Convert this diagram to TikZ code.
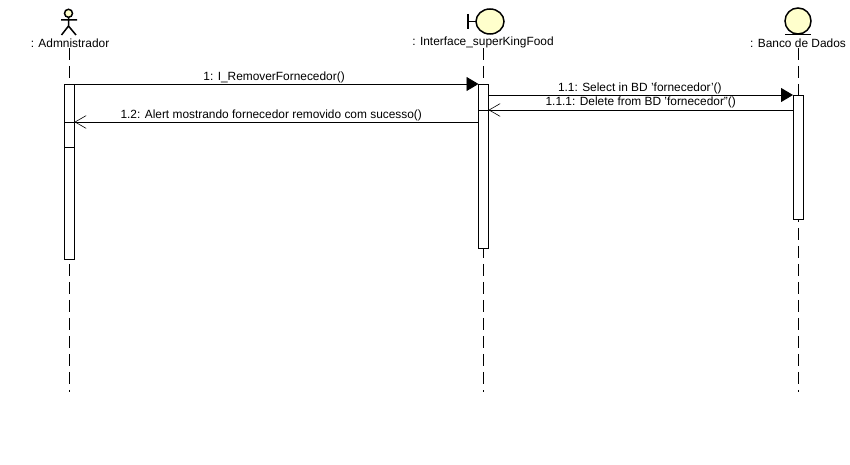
\documentclass[tikz,border=0pt]{standalone}
\usepackage{fontspec}
\setmainfont{Liberation Sans}
\usetikzlibrary{arrows.meta}
\definecolor{headfill}{HTML}{FFFFCC}
\tikzset{
    bar/.style={draw,fill=white,minimum width=10pt,inner sep=0pt,outer sep=0pt},
    role/.style={inner sep=0pt,font=\fontsize{11.9}{14}\selectfont},
    msg/.style={inner sep=0pt,font=\fontsize{11.9}{14}\selectfont},
    lifeline/.style={dash pattern=on 12pt off 6pt},
    call/.style={-{Triangle[length=12pt,width=14pt]}},
    reply/.style={-{Straight Barb[length=11pt,width=12pt,angle'=60,line width=.6pt]}},
    glyph/.style={line width=1.5pt,fill=headfill}
}
\begin{document}
\begin{tikzpicture}[x=1pt,y=-1pt,line width=.9pt]
    \useasboundingbox (0,0) rectangle (850,465);
    % roles
    \path ( 70,  43) node [role] (adm) {: Admnistrador};
    \path (483,  42) node [role] (iface) {: Interface\_superKingFood};
    \path (798,  43) node [role] (banco) {: Banco de Dados};
    \path (69.5,392) coordinate (admEnd);
    \path (483.5,392) coordinate (ifaceEnd);
    \path (798,392) coordinate (bancoEnd);
    \draw [lifeline] (adm.south -| admEnd) -- (admEnd);
    \draw [lifeline] (iface.south -| ifaceEnd) -- (ifaceEnd);
    \draw [lifeline] (banco.south -| bancoEnd) -- (bancoEnd);
    % actor
    \draw [line width=1.5pt,fill=headfill] (68.5,13.3) circle (4);
    \draw [line width=1.5pt] (68.5,17.5) -- (68.5,26) (61,20) -- (77,20) (61.5,35) -- (68.5,26) -- (76,35);
    % boundary
    \draw [glyph] (490,21.5) ellipse (14 and 12.5);
    \draw [line width=1.5pt] (468,14) -- (468,29) (468,21.5) -- (476,21.5);
    % entity
    \draw [glyph] (798,21) circle (13);
    \draw [line width=1.5pt] (785,34.5) -- (811,34.5);
    % activations
    \path (69.5,171.5) node [bar,minimum height=175pt] (admBar) {};
    \path (483.5,166) node [bar,minimum height=164pt] (ifaceBar) {};
    \path (798,157) node [bar,minimum height=124pt] (bancoBar) {};
    \path (admBar.east |- 0,122) coordinate (replyEnd);
    \path (admBar.west |- 0,122) coordinate (replyIn);
    \path (admBar.west |- 0,147) coordinate (splitW);
    \path (admBar.east |- 0,147) coordinate (splitE);
    \path (ifaceBar.west |- 0,122) coordinate (replyStart);
    \path (ifaceBar.east |- bancoBar.north) coordinate (selectStart);
    \path (ifaceBar.east |- 0,110) coordinate (deleteEnd);
    \path (ifaceBar.west |- 0,110) coordinate (deleteIn);
    \path (bancoBar.west |- 0,110) coordinate (deleteStart);
    % messages
    \draw [call] (admBar.north east) -- (ifaceBar.north west) node [msg,pos=.494,above=1pt] {1: I\_RemoverFornecedor()};
    \draw [call] (selectStart) -- (bancoBar.north west) node [msg,pos=.497,above=1pt] {1.1: Select in BD 'fornecedor'()};
    \draw [reply] (deleteStart) -- (deleteEnd) node [msg,midway,above=2pt] {1.1.1: Delete from BD 'fornecedor''()};
    \draw [reply] (replyStart) -- (replyEnd) node [msg,pos=.513,above=1pt] {1.2: Alert mostrando fornecedor removido com sucesso()};
    \draw (deleteIn) -- (deleteEnd);
    \draw (replyIn) -- (replyEnd);
    \draw (splitW) -- (splitE);
\end{tikzpicture}
\end{document}
